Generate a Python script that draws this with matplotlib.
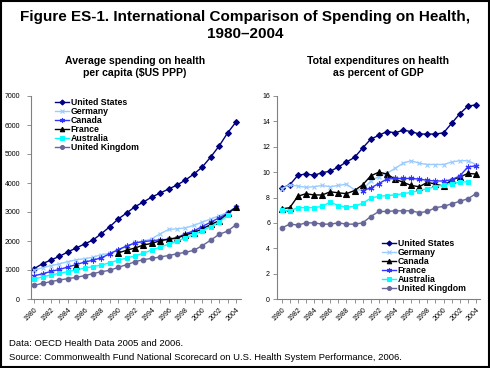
import matplotlib
matplotlib.use("Agg")
import matplotlib.pyplot as plt
from matplotlib.patches import Rectangle
import numpy as np

plt.rcParams['font.family'] = ['Liberation Sans', 'DejaVu Sans']

years = list(range(1980, 2005))
tick_years = list(range(1980, 2005, 2))
N = None

# Per-capita spending ($US PPP)
us_pc = [1046, 1218, 1345, 1471, 1621, 1759, 1897, 2034, 2253, 2494, 2759, 2966, 3184,
         3345, 3517, 3655, 3793, 3931, 4103, 4310, 4552, 4897, 5276, 5724, 6103]
germany_pc = [990, 1080, 1150, 1210, 1290, 1350, 1390, 1440, 1530, 1570, 1700, 1800, 1950,
              1990, 2080, 2250, 2400, 2420, 2450, 2540, 2650, 2760, 2870, 2990, 3180]
canada_pc = [800, 870, 950, 1020, 1100, 1190, 1270, 1340, 1420, 1560, 1700, 1830, 1930,
             1980, 2010, 2040, 2060, 2120, 2250, 2350, 2500, 2650, 2800, 2950, 3165]
france_pc = [N, N, N, N, N, 1150, N, N, N, N, 1590, 1680, 1760,
             1860, 1920, 2010, 2060, 2100, 2210, 2290, 2420, 2570, 2700, 2950, 3160]
australia_pc = [690, 760, 830, 885, 945, 1010, 1060, 1120, 1170, 1250, 1340, 1410, 1490,
                1580, 1690, 1790, 1890, 2000, 2110, 2230, 2360, 2500, 2650, 2880, N]
uk_pc = [471, 540, 598, 655, 701, 747, 805, 874, 943, 989, 1092, 1184, 1287,
         1356, 1402, 1450, 1500, 1560, 1610, 1680, 1840, 2030, 2230, 2340, 2560]

# Percent of GDP
us_gdp = [8.75, 9.0, 9.75, 9.86, 9.75, 9.96, 10.07, 10.4, 10.8, 11.16, 11.9, 12.6, 12.9,
          13.2, 13.1, 13.3, 13.2, 13.0, 13.0, 13.0, 13.1, 13.85, 14.6, 15.2, 15.3]
germany_gdp = [8.7, 9.0, 8.9, 8.8, 8.85, 8.95, 8.85, 8.95, 9.05, 8.6, 8.6, 9.3, 9.65,
               9.9, 10.3, 10.7, 10.9, 10.7, 10.6, 10.6, 10.6, 10.8, 10.9, 10.9, 10.6]
canada_gdp = [7.1, 7.2, 8.1, 8.3, 8.2, 8.2, 8.45, 8.37, 8.3, 8.55, 9.0, 9.7, 10.0,
              9.85, 9.45, 9.2, 8.95, 8.85, 9.2, 9.05, 8.9, 9.4, 9.6, 9.9, 9.85]
france_gdp = [N, N, N, N, N, N, N, N, N, N, 8.55, 8.75, 9.1,
              9.45, 9.5, 9.5, 9.5, 9.45, 9.35, 9.3, 9.3, 9.4, 9.7, 10.4, 10.5]
australia_gdp = [7.0, 6.95, 7.2, 7.2, 7.2, 7.3, 7.65, 7.35, 7.25, 7.3, 7.55, 7.95, 8.1,
                 8.15, 8.2, 8.3, 8.4, 8.55, 8.7, 8.85, 9.0, 9.1, 9.2, 9.25, N]
uk_gdp = [5.6, 5.9, 5.83, 6.0, 6.0, 5.9, 5.9, 6.0, 5.9, 5.9, 6.0, 6.5, 6.9,
          6.9, 6.95, 6.95, 6.95, 6.8, 6.9, 7.2, 7.3, 7.5, 7.7, 7.9, 8.3]

NAVY = '#000080'
LBLUE = '#99CCFF'
BLUE = '#3333FF'
BLACK = '#000000'
CYAN = '#00FFFF'
PURP = '#666699'
ASTER = (6, 2, 0)

def arr(v):
    return np.array([np.nan if x is None else x for x in v], dtype=float)

W, H = 490, 368
fig = plt.figure(figsize=(W / 100, H / 100), dpi=100)
fig.patches.append(Rectangle((0.002, 0.003), 0.995, 0.994, transform=fig.transFigure,
                             fill=False, edgecolor='black', linewidth=1.5))

def fx(px):
    return px / W

def fy(py):
    return 1 - py / H

fig.text(0.5, fy(17.5), 'Figure ES-1. International Comparison of Spending on Health,',
         ha='center', va='center', fontsize=11, fontweight='bold')
fig.text(0.5, fy(34), '1980\u20132004', ha='center', va='center', fontsize=11, fontweight='bold')
fig.text(fx(135), fy(60.5), 'Average spending on health', ha='center', va='center',
         fontsize=7.6, fontweight='bold')
fig.text(fx(135), fy(73), 'per capita ($US PPP)', ha='center', va='center',
         fontsize=7.6, fontweight='bold')
fig.text(fx(378), fy(60.5), 'Total expenditures on health', ha='center', va='center',
         fontsize=7.6, fontweight='bold')
fig.text(fx(378), fy(73), 'as percent of GDP', ha='center', va='center',
         fontsize=7.6, fontweight='bold')
fig.text(fx(9), fy(343), 'Data: OECD Health Data 2005 and 2006.', ha='left', va='center',
         fontsize=6.8)
fig.text(fx(9), fy(357), 'Source: Commonwealth Fund National Scorecard on U.S. Health System Performance, 2006.',
         ha='left', va='center', fontsize=6.8)

def style_axes(ax):
    for s in ['top', 'right']:
        ax.spines[s].set_visible(False)
    for s in ['left', 'bottom']:
        ax.spines[s].set_color('#808080')
        ax.spines[s].set_linewidth(0.8)
    ax.set_xticks(years, minor=True)
    ax.set_xticks(tick_years)
    ax.set_xticklabels([str(y) for y in tick_years], rotation=45, ha='right', va='top',
                       rotation_mode='anchor', fontsize=5)
    ax.tick_params(axis='x', which='both', length=3, width=0.6, color='#808080', pad=2)
    ax.tick_params(axis='y', length=3, width=0.6, color='#808080', labelsize=5)

# Left axes
ax1 = fig.add_axes([fx(31), fy(299), fx(241 - 31), (299 - 96) / H])
left_style = [
    ('United States', NAVY, 'D', 3.0),
    ('Germany', LBLUE, 'x', 3.2),
    ('Canada', BLUE, ASTER, 4.2),
    ('France', BLACK, '^', 3.8),
    ('Australia', CYAN, 's', 3.3),
    ('United Kingdom', PURP, 'o', 3.3),
]
left_data = [us_pc, germany_pc, canada_pc, france_pc, australia_pc, uk_pc]
handles1 = []
for (name, c, m, ms), d in zip(left_style, left_data):
    h, = ax1.plot(years, arr(d), color=c, marker=m, markersize=ms, linewidth=1.0,
                  markeredgewidth=0.8, label=name)
    handles1.append(h)
ax1.set_xlim(1979.63, 2004.6)
ax1.set_ylim(0, 7000)
ax1.set_yticks(range(0, 7001, 1000))
ax1.set_yticklabels([str(v) for v in range(0, 7001, 1000)])
style_axes(ax1)
ax1.tick_params(axis='y', pad=5)
leg_kw = dict(frameon=False, borderpad=0, handlelength=1.5, handletextpad=0.25,
              labelspacing=0.0, markerscale=0.85, prop={'size': 6.3, 'weight': 'bold'})
ax1.legend(handles=handles1, loc='upper left', bbox_to_anchor=(fx(51), fy(93.5)),
           bbox_transform=fig.transFigure, **leg_kw)

# Right axes
ax2 = fig.add_axes([fx(277), fy(299), fx(480 - 277), (299 - 96) / H])
right_style = [
    ('United States', NAVY, 'D', 3.0),
    ('Germany', LBLUE, 'x', 3.2),
    ('Canada', BLACK, '^', 3.8),
    ('France', BLUE, ASTER, 4.2),
    ('Australia', CYAN, 's', 3.3),
    ('United Kingdom', PURP, 'o', 3.3),
]
right_data = [us_gdp, germany_gdp, canada_gdp, france_gdp, australia_gdp, uk_gdp]
handles2 = []
for (name, c, m, ms), d in zip(right_style, right_data):
    h, = ax2.plot(years, arr(d), color=c, marker=m, markersize=ms, linewidth=1.0,
                  markeredgewidth=0.8, label=name)
    handles2.append(h)
ax2.set_xlim(1979.42, 2004.5)
ax2.set_ylim(0, 16)
ax2.set_yticks(range(0, 17, 2))
ax2.set_yticklabels([str(v) for v in range(0, 17, 2)])
style_axes(ax2)
ax2.tick_params(axis='y', pad=2)
ax2.legend(handles=handles2, loc='upper left', bbox_to_anchor=(fx(378), fy(234.5)),
           bbox_transform=fig.transFigure, **leg_kw)

fig.savefig('out.png', dpi=100)
